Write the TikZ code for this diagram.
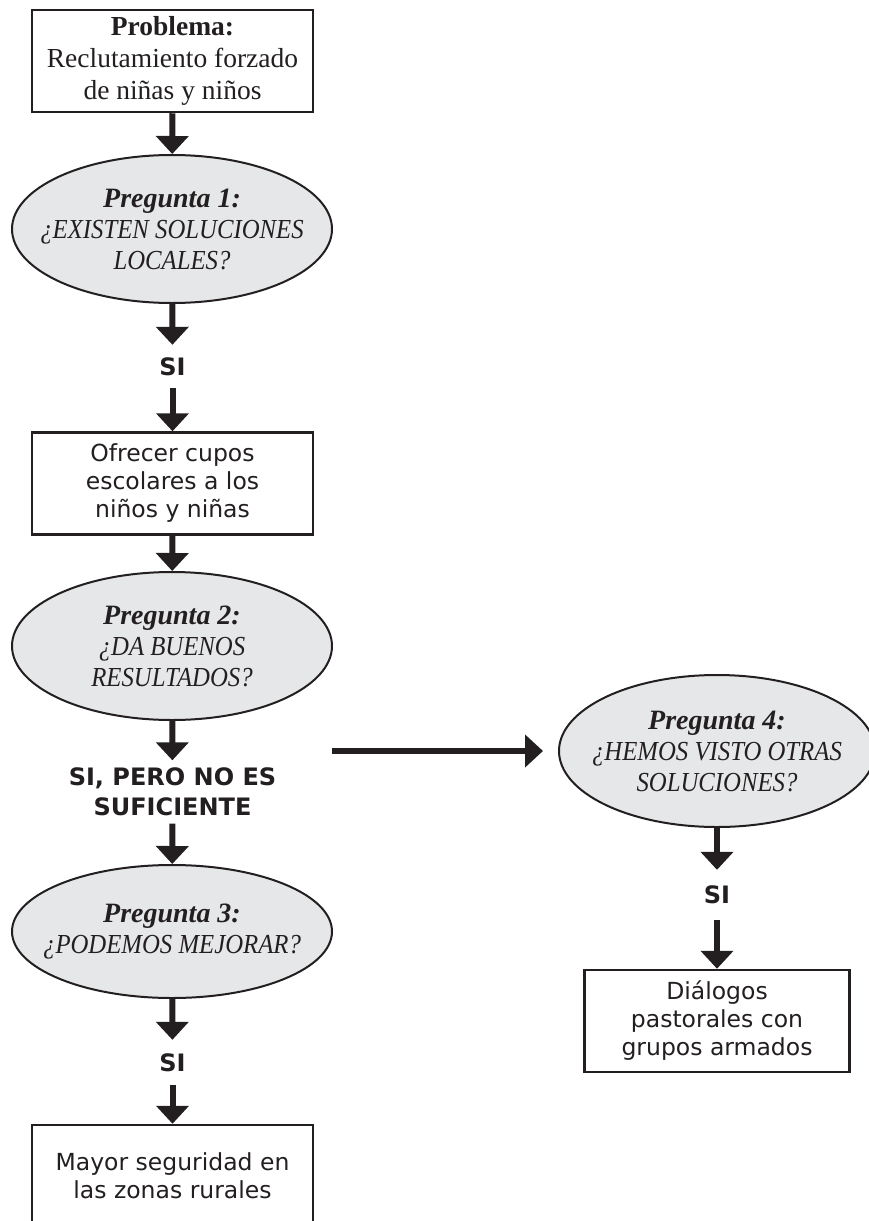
\documentclass[tikz,border=0pt]{standalone}
\usepackage{fontspec}
\setmainfont{Liberation Serif}
\setsansfont{DejaVu Sans}
\newfontfamily\askfont[FakeStretch=0.9]{Liberation Serif}
\definecolor{flowInk}{RGB}{35,31,32}
\definecolor{flowGray}{RGB}{230,231,232}
\usetikzlibrary{arrows.meta,shapes.geometric}
\newcommand{\asktitle}[1]{{\rmfamily\bfseries\itshape\fontsize{28}{31}\selectfont #1}}

\begin{document}
\begin{tikzpicture}[x=1pt,y=-1pt,
    box/.style={rectangle, draw=flowInk, fill=white, line width=2.5pt,
                minimum width=281pt, minimum height=102pt,
                align=center, inner sep=0pt, text=flowInk,
                font=\sffamily\fontsize{23.5}{28}\selectfont},
    ask/.style={ellipse, draw=flowInk, fill=flowGray, line width=2pt,
                minimum width=320pt, minimum height=148pt,
                align=center, inner xsep=-40pt, inner ysep=0pt, text=flowInk,
                font=\askfont\itshape\fontsize{27.5}{31}\selectfont},
    answer/.style={font=\sffamily\bfseries\fontsize{24}{30}\selectfont,
                   align=center, inner sep=0pt, text=flowInk},
    arr/.style={-{Triangle[width=32pt,length=18pt]}, flowInk, line width=6pt}
  ]
  \useasboundingbox (0,0) rectangle (869,1221);

  % left column
  \node[box, font=\rmfamily\fontsize{27.5}{32}\selectfont] (prob) at (172.5,61)
    {\textbf{Problema:}\\Reclutamiento forzado\\de niñas y niños};
  \node[ask] (q1) at (172,229)
    {\asktitle{Pregunta 1:}\\¿EXISTEN SOLUCIONES\\LOCALES?};
  \node[answer, minimum height=43pt] (s1) at (172.5,366.5) {SI};
  \node[box] (offer) at (172.5,483.5)
    {Ofrecer cupos\\escolares a los\\niños y niñas};
  \node[ask] (q2) at (172,646)
    {\asktitle{Pregunta 2:}\\¿DA BUENOS\\RESULTADOS?};
  \node[answer, minimum height=63pt] (s2) at (172.5,792)
    {SI, PERO NO ES\\SUFICIENTE};
  \node[ask, minimum height=133pt] (q3) at (172,931.5)
    {\asktitle{Pregunta 3:}\\¿PODEMOS MEJORAR?};
  \node[answer, minimum height=45pt] (s3) at (172.5,1062.5) {SI};
  \node[box] (secure) at (172.5,1176)
    {Mayor seguridad en\\las zonas rurales};

  % right column
  \node[ask, minimum width=316pt, minimum height=152pt] (q4) at (717,751)
    {\asktitle{Pregunta 4:}\\¿HEMOS VISTO OTRAS\\SOLUCIONES?};
  \node[answer, minimum height=50pt] (s4) at (717,895) {SI};
  \node[box, minimum width=265pt] (talks) at (717,1021)
    {Diálogos\\pastorales con\\grupos armados};
  \coordinate (branch) at (332,751);

  \draw[arr] (prob) -- (q1);
  \draw[arr] (q1) -- (s1);
  \draw[arr] (s1) -- (offer);
  \draw[arr] (offer) -- (q2);
  \draw[arr] (q2) -- (s2);
  \draw[arr] (s2) -- (q3);
  \draw[arr] (q3) -- (s3);
  \draw[arr] (s3) -- (secure);
  \draw[arr, shorten >=15pt] (branch) -- (q4);
  \draw[arr] (q4) -- (s4);
  \draw[arr] (s4) -- (talks);
\end{tikzpicture}
\end{document}
